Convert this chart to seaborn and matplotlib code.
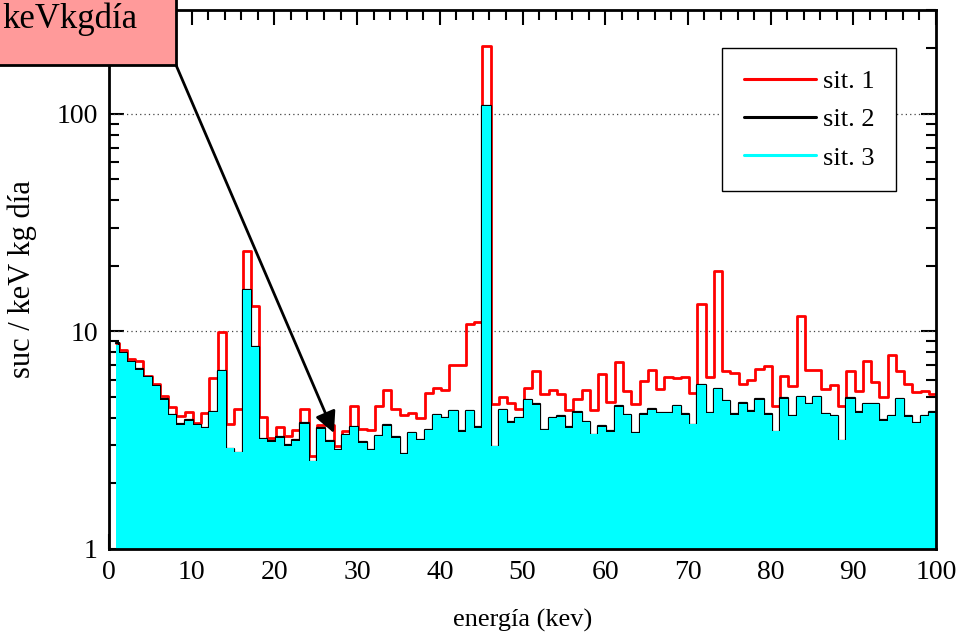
import numpy as np
import pandas as pd
import matplotlib
matplotlib.use("Agg")
import matplotlib.pyplot as plt
import seaborn as sns
from matplotlib.lines import Line2D
from matplotlib.patches import Rectangle
from matplotlib.ticker import MultipleLocator, LogLocator, NullFormatter, FixedLocator, FixedFormatter

# ---- data -------------------------------------------------------------
bordes = [0.85] + [k + 0.15 for k in range(1, 101)]   # bin edges (keV)
centros = [0.5 * (a + b) for a, b in zip(bordes[:-1], bordes[1:])]

sit1 = [8.88, 8.18, 7.46, 7.28, 6.22, 5.75, 5.05, 4.47, 4.07, 4.26,
        3.80, 4.20, 6.13, 9.93, 3.77, 4.42, 23.4, 13.1, 4.05, 3.25,
        3.62, 3.30, 3.54, 4.42, 2.67, 3.71, 3.71, 2.98, 3.50, 4.53,
        3.57, 3.52, 4.53, 5.36, 4.42, 4.12, 4.22, 4.00, 5.21, 5.52,
        5.38, 7.00, 7.00, 10.85, 11.0, 205.0, 4.66, 4.97, 4.70, 4.42,
        5.52, 6.58, 5.14, 5.40, 5.14, 4.34, 4.91, 5.36, 4.37, 6.35,
        4.74, 7.23, 5.31, 4.62, 5.90, 6.62, 5.46, 6.17, 6.10, 6.17,
        5.23, 13.3, 6.20, 18.9, 6.58, 6.45, 5.71, 6.00, 6.69, 6.93,
        4.53, 6.22, 5.59, 11.8, 6.67, 6.62, 5.46, 5.70, 4.53, 6.55,
        5.32, 7.28, 5.85, 4.97, 7.82, 6.55, 5.75, 5.27, 5.32, 5.14]

sit2 = [8.80, 7.98, 7.25, 6.70, 6.19, 5.61, 4.88, 4.14, 3.75, 3.90,
        3.72, 3.60, 4.26, 6.60, 2.88, 2.76, 15.5, 8.47, 3.21, 3.13,
        3.27, 2.99, 3.17, 3.79, 2.52, 3.59, 3.13, 2.86, 3.35, 3.64,
        3.09, 2.86, 3.32, 3.70, 3.27, 2.72, 3.42, 3.18, 3.53, 4.14,
        4.00, 4.33, 3.47, 4.33, 3.62, 109.0, 2.95, 4.36, 3.82, 4.00,
        4.84, 4.63, 3.53, 4.02, 4.07, 3.62, 4.24, 3.85, 3.35, 3.66,
        3.47, 4.53, 4.14, 3.40, 4.17, 4.39, 4.22, 4.22, 4.56, 4.17,
        3.72, 5.68, 4.22, 5.44, 4.81, 4.17, 4.68, 4.29, 4.87, 4.17,
        3.45, 4.93, 4.09, 5.02, 4.64, 5.02, 4.18, 4.09, 3.14, 4.93,
        4.24, 4.64, 4.64, 3.90, 4.10, 4.90, 4.07, 3.78, 4.10, 4.24]

sit3 = [8.70, 7.95, 7.23, 6.67, 6.17, 5.59, 4.86, 4.12, 3.73, 3.88,
        3.70, 3.58, 4.24, 6.58, 2.91, 2.79, 15.5, 8.45, 3.19, 3.11,
        3.25, 2.97, 3.15, 3.77, 2.53, 3.57, 3.11, 2.84, 3.33, 3.62,
        3.07, 2.84, 3.30, 3.68, 3.25, 2.73, 3.40, 3.16, 3.51, 4.12,
        3.98, 4.31, 3.45, 4.31, 3.60, 108.8, 2.98, 4.34, 3.80, 3.98,
        4.82, 4.61, 3.51, 4.00, 4.05, 3.60, 4.22, 3.83, 3.37, 3.64,
        3.45, 4.50, 4.12, 3.42, 4.15, 4.37, 4.20, 4.20, 4.54, 4.15,
        3.74, 5.65, 4.20, 5.42, 4.79, 4.15, 4.66, 4.27, 4.85, 4.15,
        3.47, 4.91, 4.07, 5.00, 4.62, 5.00, 4.16, 4.07, 3.16, 4.91,
        4.22, 4.62, 4.62, 3.88, 4.08, 4.88, 4.05, 3.80, 4.08, 4.22]

etiquetas = ["sit. 1", "sit. 2", "sit. 3"]
colores = ["#ff0000", "#000000", "#00ffff"]
xticks = [0, 10, 20, 30, 40, 50, 60, 70, 80, 90, 100]
yticks = [1, 10, 100]

df = pd.DataFrame({"energia": centros, "sit1": sit1, "sit2": sit2, "sit3": sit3})

# ---- style ------------------------------------------------------------
sns.set_style("ticks")
plt.rcParams["font.family"] = ["Liberation Serif", "DejaVu Serif"]
plt.rcParams["text.color"] = "black"
plt.rcParams["axes.labelcolor"] = "black"
plt.rcParams["xtick.color"] = "black"
plt.rcParams["ytick.color"] = "black"

fig = plt.figure(figsize=(9.62, 6.42), dpi=100)
ax = fig.add_axes([109 / 962, 1 - 549 / 642, (936 - 109) / 962, (549 - 10) / 642])

# ---- histograms ---------------------------------------------------------
sns.histplot(data=df, x="energia", weights="sit1", bins=bordes, element="step",
             fill=False, color=colores[0], linewidth=2.0, ax=ax, zorder=2)
sns.histplot(data=df, x="energia", weights="sit2", bins=bordes, element="step",
             fill=False, color=colores[1], linewidth=1.6, ax=ax, zorder=3)
sns.histplot(data=df, x="energia", weights="sit3", bins=bordes, element="step",
             fill=True, color=colores[2], alpha=1.0, linewidth=0, ax=ax, zorder=4)

ax.set_yscale("log")
ax.set_xlim(0, 100)
ax.set_ylim(1, 300)

# grid (dotted at decades)
for yv in [10, 100]:
    ax.axhline(yv, color="#444444", lw=0.9, ls=(0, (1, 2.5)), zorder=1)

# ticks
ax.xaxis.set_major_locator(FixedLocator(xticks))
ax.xaxis.set_major_formatter(FixedFormatter([str(t) for t in xticks]))
ax.xaxis.set_minor_locator(MultipleLocator(2))
ax.yaxis.set_major_locator(FixedLocator(yticks))
ax.yaxis.set_major_formatter(FixedFormatter([str(t) for t in yticks]))
ax.yaxis.set_minor_locator(LogLocator(base=10, subs=np.arange(2, 10)))
ax.yaxis.set_minor_formatter(NullFormatter())
ax.tick_params(which="both", direction="in", top=True, right=True,
               width=1.5, colors="black", labelcolor="black", labelsize=20)
ax.tick_params(which="major", length=11, pad=8)
ax.tick_params(which="minor", length=7)
for s in ax.spines.values():
    s.set_linewidth(2)
    s.set_color("black")
    s.set_zorder(6)

ax.set_xlabel("energía (kev)", fontsize=19, labelpad=17, color="black")
ax.set_ylabel("suc / keV kg día", fontsize=22, labelpad=14, color="black")

# legend
handles = [Line2D([0], [0], color=c, lw=2.2) for c in colores]
leg = ax.legend(handles, etiquetas, loc="upper right",
                bbox_to_anchor=(0.952, 0.9295), borderaxespad=0,
                fancybox=False, framealpha=1, edgecolor="black",
                prop={"size": 19}, handlelength=2.75, handletextpad=0.25,
                labelspacing=0.56, borderpad=0.82)
leg.get_frame().set_linewidth(1.0)
leg.set_zorder(7)
for t in leg.get_texts():
    t.set_color("black")

# annotation box + arrow
box = Rectangle((-0.1, 1 - 65 / 642), 0.1 + 176 / 962, 0.3,
                transform=fig.transFigure, facecolor="#ff9a9a",
                edgecolor="black", linewidth=2, clip_on=False, zorder=8)
fig.add_artist(box)
fig.text(2 / 962, 1 - 28 / 642, "keVkgdía", ha="left", va="baseline",
         fontsize=25, color="black", zorder=9)
ax.annotate("", xy=(27.2, 3.41), xycoords="data",
            xytext=(176 / 962, 1 - 65 / 642), textcoords="figure fraction",
            arrowprops=dict(arrowstyle="-|>", color="black", lw=2,
                            mutation_scale=32, shrinkA=0, shrinkB=0),
            annotation_clip=False, zorder=9)

fig.savefig("out.png", dpi=100)
